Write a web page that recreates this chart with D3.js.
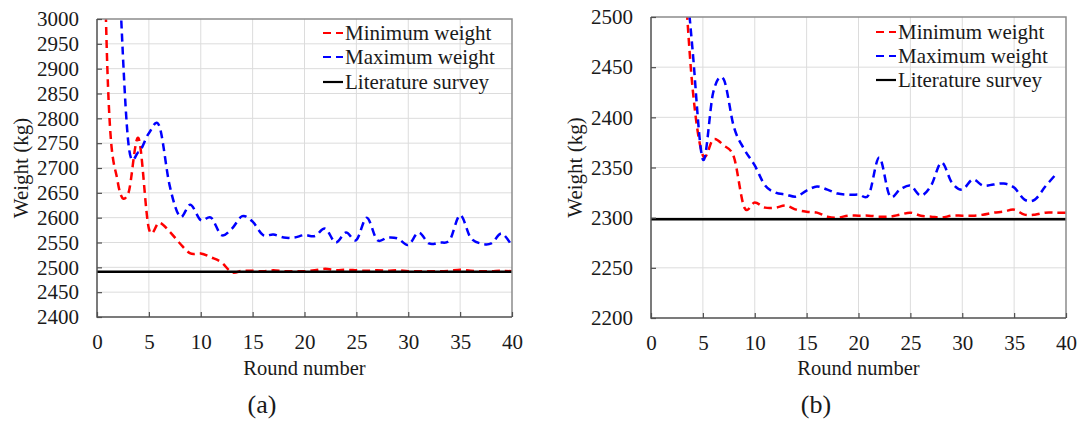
<!DOCTYPE html>
<html><head><meta charset="utf-8">
<script src="https://cdn.jsdelivr.net/npm/d3@7"></script>
<style>
body{margin:0;background:#fff}
text{font-family:"Liberation Serif","Times New Roman",serif;fill:#1a1a1a}
</style>
</head><body>
<svg id="c" width="1080" height="421"></svg>
<script>
// ---------- data ----------
const rounds = d3.range(0, 41);
const minA = [3900,2900,2672,2648,2760,2578,2590,2572,2548,2528,2528,2520,2510,2490,2493,2493,2492,2494,2492,2492,2492,2494,2497,2494,2495,2494,2493,2494,2493,2494,2492,2492,2492,2492,2493,2495,2493,2492,2492,2493,2492];
const maxA = [4200,3600,3150,2755,2732,2770,2785,2665,2602,2626,2595,2600,2565,2578,2603,2592,2565,2566,2560,2560,2565,2563,2578,2550,2570,2555,2600,2555,2560,2558,2545,2570,2548,2550,2555,2605,2560,2548,2548,2568,2543];
const litA = 2491;
const minB = [3100,2900,2700,2575,2430,2362,2378,2372,2360,2310,2315,2310,2310,2312,2308,2306,2305,2301,2300,2302,2302,2302,2301,2301,2303,2305,2302,2301,2300,2302,2302,2302,2303,2305,2306,2308,2303,2303,2305,2305,2305];
const maxB = [3200,3000,2750,2590,2468,2358,2425,2438,2390,2368,2352,2332,2325,2323,2321,2327,2331,2328,2324,2323,2323,2323,2360,2322,2328,2332,2322,2332,2355,2335,2328,2338,2332,2333,2334,2330,2318,2318,2331,2343];
const litB = 2298.5;
const xTicks = d3.range(0, 41, 5);
const yTicksA = d3.range(2400, 3001, 50);
const yTicksB = d3.range(2200, 2501, 50);
const legendLabels = ["Minimum weight", "Maximum weight", "Literature survey"];
const panelLabels = ["(a)", "(b)"];
const xTitle = "Round number";
const yTitle = "Weight (kg)";

// ---------- drawing ----------
const svg = d3.select("#c");
const FONT = '"Liberation Serif","Times New Roman",serif';

function panel(cfg) {
  const x = d3.scaleLinear().domain([0, 40]).range([cfg.x0, cfg.x1]);
  const y = d3.scaleLinear().domain(cfg.yDomain).range([cfg.y1, cfg.y0]);
  const g = svg.append("g");
  const clipId = "clip" + cfg.id;
  svg.append("clipPath").attr("id", clipId).append("rect")
    .attr("x", cfg.x0).attr("y", cfg.y0).attr("width", cfg.x1 - cfg.x0).attr("height", cfg.y1 - cfg.y0);

  // grid
  g.append("g").selectAll("line").data(xTicks.slice(1, -1)).join("line")
    .attr("x1", d => x(d)).attr("x2", d => x(d)).attr("y1", cfg.y0).attr("y2", cfg.y1)
    .attr("stroke", "#dcdcdc").attr("stroke-width", 1);
  g.append("g").selectAll("line").data(cfg.yTicks.slice(1, -1)).join("line")
    .attr("y1", d => y(d)).attr("y2", d => y(d)).attr("x1", cfg.x0).attr("x2", cfg.x1)
    .attr("stroke", "#dcdcdc").attr("stroke-width", 1);

  const line = d3.line().x((d, i) => x(rounds[i])).y(d => y(d)).curve(d3.curveCardinal.tension(0));
  const plot = g.append("g").attr("clip-path", `url(#${clipId})`);
  plot.append("path").attr("d", line(cfg.minV)).attr("fill", "none")
    .attr("stroke", "#ff0000").attr("stroke-width", 2.5).attr("stroke-dasharray", "8,5");
  plot.append("path").attr("d", line(cfg.maxV)).attr("fill", "none")
    .attr("stroke", "#0000ff").attr("stroke-width", 2.5).attr("stroke-dasharray", "8,5");
  plot.append("line").attr("x1", cfg.x0).attr("x2", cfg.x1)
    .attr("y1", y(cfg.lit)).attr("y2", y(cfg.lit))
    .attr("stroke", "#000").attr("stroke-width", 2.5);

  // frame
  g.append("path").attr("d", `M${cfg.x0},${cfg.y0}H${cfg.x1}V${cfg.y1}`)
    .attr("fill", "none").attr("stroke", "#8c8c8c").attr("stroke-width", 1.5);
  g.append("path").attr("d", `M${cfg.x0},${cfg.y0}V${cfg.y1}H${cfg.x1}`)
    .attr("fill", "none").attr("stroke", "#505050").attr("stroke-width", 1.5);

  // axes
  const ax = g.append("g").attr("transform", `translate(0,${cfg.y1})`)
    .call(d3.axisBottom(x).tickValues(xTicks).tickSize(-5).tickPadding(17).tickFormat(d3.format("d")));
  ax.attr("font-family", FONT);
  ax.select(".domain").remove();
  ax.selectAll("line").attr("stroke", "#505050").attr("stroke-width", 1.2);
  ax.selectAll("text").attr("font-size", 21).attr("fill", "#1a1a1a");
  const ay = g.append("g").attr("transform", `translate(${cfg.x0},0)`)
    .call(d3.axisLeft(y).tickValues(cfg.yTicks).tickSize(-5).tickPadding(18).tickFormat(d3.format("d")));
  ay.attr("font-family", FONT);
  ay.select(".domain").remove();
  ay.selectAll("line").attr("stroke", "#505050").attr("stroke-width", 1.2);
  ay.selectAll("text").attr("font-size", 21).attr("fill", "#1a1a1a");

  // titles
  g.append("text").attr("x", (cfg.x0 + cfg.x1) / 2).attr("y", 375)
    .attr("text-anchor", "middle").attr("font-size", 20.5).text(xTitle);
  g.append("text").attr("transform", `translate(${cfg.yTitleX},${(cfg.y0 + cfg.y1) / 2}) rotate(-90)`)
    .attr("text-anchor", "middle").attr("dy", "0.35em").attr("font-size", 21).text(yTitle);
  g.append("text").attr("x", cfg.labelX).attr("y", 413)
    .attr("text-anchor", "middle").attr("font-size", 26).text(cfg.label);

  // legend
  const lg = g.append("g");
  const styles = [{c: "#ff0000", dash: "8,5"}, {c: "#0000ff", dash: "8,5"}, {c: "#000", dash: null}];
  legendLabels.forEach((t, i) => {
    const yy = cfg.legY[i];
    lg.append("line").attr("x1", cfg.legX).attr("x2", cfg.legX + 20).attr("y1", yy).attr("y2", yy)
      .attr("stroke", styles[i].c).attr("stroke-width", 2.2)
      .attr("stroke-dasharray", styles[i].dash);
    lg.append("text").attr("x", cfg.legX + 22).attr("y", yy).attr("dy", "0.33em")
      .attr("font-size", 21).text(t);
  });
}

panel({id: "a", x0: 97, x1: 512, y0: 19, y1: 317, yDomain: [2400, 3000], yTicks: yTicksA,
  minV: minA, maxV: maxA, lit: litA, yTitleX: 21, labelX: 262, label: panelLabels[0],
  legX: 323, legY: [33, 57, 82]});
panel({id: "b", x0: 651, x1: 1066, y0: 17, y1: 318, yDomain: [2200, 2500], yTicks: yTicksB,
  minV: minB, maxV: maxB, lit: litB, yTitleX: 575, labelX: 816, label: panelLabels[1],
  legX: 876, legY: [32, 56, 80]});
</script>
</body></html>
